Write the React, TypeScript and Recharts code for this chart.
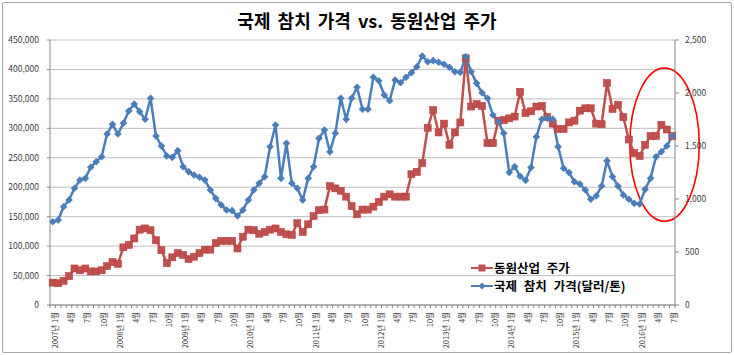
import React from "react";
import {
  LineChart,
  Line,
  XAxis,
  YAxis,
  CartesianGrid,
  ReferenceArea,
} from "recharts";

const FONT = '"Noto Sans CJK KR", "Noto Sans", sans-serif';
const STOCK_COLOR = "#C0504D";
const TUNA_COLOR = "#4A7EBB";

// monthly categories, Jan 2007 .. Jul 2016
const START_YEAR = 2007;
const MONTH_COUNT = 115;
const MONTHS: { key: string; label: string; month: number }[] = [];
for (let i = 0; i < MONTH_COUNT; i++) {
  const year = START_YEAR + Math.floor(i / 12);
  const month = (i % 12) + 1;
  MONTHS.push({
    key: `${year}-${month}`,
    label: month === 1 ? `${year}년 ${month}월` : `${month}월`,
    month,
  });
}

// 동원산업 주가 (원, left axis)
const STOCK_PRICE = [
  38000, 37000, 41000, 49000, 62000, 59000, 62000, 57000, 57000, 59000, 66000, 73000,
  70000, 98000, 102000, 113000, 128000, 130000, 127000, 110000, 93000, 71000, 81000, 88000,
  85000, 78000, 82000, 88000, 94000, 94000, 105000, 109000, 109000, 109000, 96000, 116000,
  128000, 127000, 121000, 124000, 128000, 130000, 124000, 120000, 119000, 139000, 124000, 137000,
  151000, 161000, 162000, 202000, 198000, 194000, 184000, 168000, 154000, 162000, 162000, 167000,
  175000, 184000, 188000, 184000, 184000, 184000, 222000, 226000, 241000, 301000, 331000, 293000,
  308000, 272000, 293000, 310000, 419000, 337000, 341000, 338000, 275000, 275000, 313000, 314000,
  317000, 320000, 362000, 326000, 329000, 337000, 338000, 319000, 308000, 299000, 299000, 310000,
  313000, 330000, 334000, 334000, 308000, 307000, 377000, 333000, 340000, 319000, 281000, 258000,
  253000, 272000, 287000, 287000, 306000, 298000, 287000,
];

// 국제 참치 가격 (달러/톤, right axis)
const TUNA_PRICE = [
  786, 802, 927, 991, 1101, 1179, 1195, 1300, 1352, 1399, 1613, 1705,
  1613, 1714, 1830, 1896, 1824, 1752, 1950, 1594, 1500, 1406, 1393, 1456,
  1305, 1258, 1226, 1205, 1179, 1085, 1006, 943, 896, 890, 840, 896,
  991, 1085, 1148, 1211, 1493, 1698, 1195, 1525, 1148, 1101, 991, 1195,
  1305, 1572, 1651, 1446, 1620, 1950, 1752, 1950, 2054, 1846, 1846, 2148,
  2116, 1981, 1927, 2123, 2097, 2148, 2192, 2248, 2349, 2295, 2305, 2290,
  2271, 2242, 2201, 2195, 2342, 2201, 2091, 2003, 1950, 1792, 1729, 1620,
  1250, 1305, 1214, 1176, 1298, 1588, 1752, 1761, 1752, 1493, 1290, 1250,
  1163, 1141, 1085, 997, 1028, 1123, 1360, 1211, 1123, 1038, 997, 959,
  953, 1091, 1195, 1399, 1446, 1500, 1594,
];

const LEFT_TICKS = [0, 50000, 100000, 150000, 200000, 250000, 300000, 350000, 400000, 450000];
const RIGHT_TICKS = [0, 500, 1000, 1500, 2000, 2500];

const data = MONTHS.map((m, i) => ({
  key: m.key,
  label: m.label,
  month: m.month,
  stock: STOCK_PRICE[i],
  tuna: TUNA_PRICE[i],
}));

const fmt = (v: number) => v.toLocaleString("en-US");

function MonthTick({ x, y, index }: any) {
  const m = MONTHS[index];
  if (!m) return null;
  const half = 2.72;
  return (
    <g>
      <line x1={x - half} y1={y} x2={x - half} y2={y + 3} stroke="#868686" />
      {index === MONTH_COUNT - 1 && (
        <line x1={x + half} y1={y} x2={x + half} y2={y + 3} stroke="#868686" />
      )}
      {(m.month - 1) % 3 === 0 && (
        <text
          x={x + 5}
          y={y + 7}
          transform={`rotate(-90, ${x + 5}, ${y + 7})`}
          textAnchor="end"
          fontSize={7.5}
          fontFamily={FONT}
          fill="#404040"
        >
          {m.label}
        </text>
      )}
    </g>
  );
}

function SquareDot({ cx, cy, index }: any) {
  if (cx == null || cy == null) return null;
  return (
    <rect
      key={`s-${index}`}
      x={cx - 3.5}
      y={cy - 3.5}
      width={7}
      height={7}
      fill={STOCK_COLOR}
      stroke="#B9413E"
      strokeWidth={0.6}
    />
  );
}

function DiamondDot({ cx, cy, index }: any) {
  if (cx == null || cy == null) return null;
  const r = 3.8;
  return (
    <path
      key={`d-${index}`}
      d={`M${cx},${cy - r}L${cx + r},${cy}L${cx},${cy + r}L${cx - r},${cy}Z`}
      fill={TUNA_COLOR}
    />
  );
}

function LegendBox() {
  const row = (color: string, label: string, square: boolean) => (
    <div style={{ display: "flex", alignItems: "center", height: 18 }}>
      <svg width={22} height={10} style={{ marginRight: 1 }}>
        <line x1={0} y1={5} x2={22} y2={5} stroke={color} strokeWidth={2} />
        {square ? (
          <rect x={7.5} y={1.5} width={7} height={7} fill={color} />
        ) : (
          <path d="M11,1.5L14.5,5L11,8.5L7.5,5Z" fill={color} />
        )}
      </svg>
      <span
        style={{
          fontFamily: FONT,
          fontSize: 12.5,
          fontWeight: 700,
          color: "#000",
          wordSpacing: 4,
          lineHeight: "18px",
        }}
      >
        {label}
      </span>
    </div>
  );
  return (
    <div style={{ position: "absolute", left: 471, top: 259 }}>
      {row(STOCK_COLOR, "동원산업 주가", true)}
      {row(TUNA_COLOR, "국제 참치 가격(달러/톤)", false)}
    </div>
  );
}

function AnnotationEllipse({ x, y, width, height }: any) {
  if (x == null || y == null) return null;
  const cx = x + width / 2 + 14;
  const cy = y + height / 2;
  return (
    <ellipse
      cx={cx}
      cy={cy}
      rx={width / 2 + 13}
      ry={height / 2}
      fill="none"
      stroke="#FF0000"
      strokeWidth={1.6}
    />
  );
}

export default function App() {
  return (
    <div
      style={{
        position: "fixed",
        left: 0,
        top: 0,
        width: 734,
        height: 355,
        background: "#fff",
        fontFamily: FONT,
      }}
    >
      <div
        style={{
          position: "absolute",
          left: 2,
          top: 2,
          width: 728,
          height: 349,
          border: "1px solid #A6A6A6",
          borderRadius: 2,
        }}
      />
      <div
        style={{
          position: "absolute",
          top: 7,
          left: 0,
          width: 734,
          textAlign: "center",
          fontSize: 18,
          fontWeight: 700,
          color: "#000",
          wordSpacing: 3,
        }}
      >
        국제 참치 가격 vs. 동원산업 주가
      </div>
      <LineChart
        width={734}
        height={355}
        data={data}
        margin={{ top: 40, right: 4, bottom: 4, left: 4 }}
        style={{ position: "absolute", left: 0, top: 0 }}
      >
        <CartesianGrid yAxisId="left" vertical={false} stroke="#BFBFBF" />
        <XAxis
          dataKey="key"
          interval={0}
          height={46}
          tickSize={0}
          tickMargin={0}
          tickLine={false}
          tick={<MonthTick />}
          axisLine={{ stroke: "#868686" }}
          padding={{ left: 2.72, right: 2.72 }}
        />
        <YAxis
          yAxisId="left"
          width={46}
          domain={[0, 450000]}
          ticks={LEFT_TICKS}
          tickFormatter={fmt}
          tickSize={3}
          tickMargin={8}
          tick={{ fontSize: 8.5, fill: "#404040", fontFamily: FONT }}
          axisLine={{ stroke: "#868686" }}
          tickLine={{ stroke: "#868686" }}
        />
        <YAxis
          yAxisId="right"
          orientation="right"
          width={55}
          domain={[0, 2500]}
          ticks={RIGHT_TICKS}
          tickFormatter={fmt}
          tickSize={4}
          tickMargin={6}
          tick={{ fontSize: 8.5, fill: "#404040", fontFamily: FONT, textAnchor: "start" }}
          axisLine={{ stroke: "#868686" }}
          tickLine={{ stroke: "#868686" }}
        />
        <Line
          yAxisId="left"
          dataKey="stock"
          name="동원산업 주가"
          stroke={STOCK_COLOR}
          strokeWidth={2.5}
          dot={<SquareDot />}
          activeDot={false}
          isAnimationActive={false}
        />
        <Line
          yAxisId="right"
          dataKey="tuna"
          name="국제 참치 가격(달러/톤)"
          stroke={TUNA_COLOR}
          strokeWidth={2.5}
          dot={<DiamondDot />}
          activeDot={false}
          isAnimationActive={false}
        />
        <ReferenceArea
          yAxisId="right"
          x1={MONTHS[106].key}
          x2={MONTHS[MONTH_COUNT - 1].key}
          y1={790}
          y2={2235}
          ifOverflow="visible"
          shape={<AnnotationEllipse />}
        />
      </LineChart>
      <LegendBox />
    </div>
  );
}
